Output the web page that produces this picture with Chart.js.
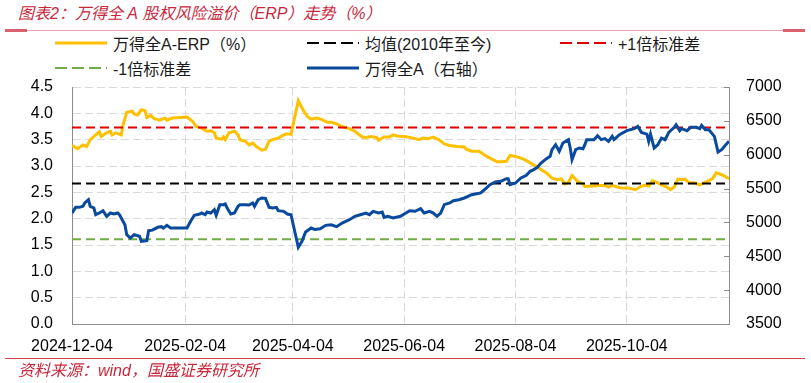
<!DOCTYPE html>
<html>
<head>
<meta charset="utf-8">
<script src="https://cdn.jsdelivr.net/npm/chart.js@4.4.1/dist/chart.umd.min.js"></script>
<style>
  body {
    margin: 0;
    width: 811px;
    height: 383px;
    position: relative;
    overflow: hidden;
    background: #fff;
    font-family: "Liberation Sans", "Noto Sans CJK SC", sans-serif;
    font-kerning: none;
    font-feature-settings: "kern" 0, "halt" 0, "palt" 0;
    text-spacing-trim: space-all;
  }
  #erpChart { position: absolute; left: 0; top: 0; }
  .title {
    position: absolute; left: 18px; top: 4px;
    font-size: 16px; line-height: 20px; font-style: italic;
    color: #c8283c; white-space: nowrap;
  }
  .rule { position: absolute; height: 1px; }
  .source {
    position: absolute; left: 18px; top: 361px;
    font-size: 16px; line-height: 20px; font-style: italic;
    color: #c8283c; white-space: nowrap;
  }
  .legend-item {
    position: absolute; height: 20px;
    display: flex; align-items: center;
    font-size: 16px; color: #1a1a1a; white-space: nowrap;
  }
  .legend-item svg { margin-right: 6px; }
</style>
</head>
<body>
<div class="title">图表2：万得全 A 股权风险溢价（ERP）走势（%）</div>
<div class="rule" style="left:5px;top:30px;width:800px;background:#e6a3aa;"></div>
<div class="rule" style="left:5px;top:29px;width:22px;height:3px;background:#d9606c;"></div>
<div class="rule" style="left:783px;top:29px;width:22px;height:3px;background:#d9606c;"></div>
<div id="legend"></div>
<canvas id="erpChart" width="811" height="383"></canvas>
<div class="rule" style="left:5px;top:358px;width:800px;background:#d2404e;"></div>
<div class="source">资料来源：wind，国盛证券研究所</div>

<script>
const START_DATE = "2024-12-04";
const LAST_DAY = 360;
const TICK_LABELS = ["2024-12-04", "2025-02-04", "2025-04-04", "2025-06-04", "2025-08-04", "2025-10-04"];

// ERP (%), day offsets from START_DATE
const ERP_DAYS = [
  0, 3, 6, 8, 10, 13, 15, 16, 19, 21, 22, 24, 27, 28, 30, 33, 34, 36, 38, 40,
  41, 43, 45, 48, 51, 52, 55, 63, 66, 68, 71, 74, 76, 78, 79, 82, 83, 84, 86, 89,
  91, 92, 95, 97, 99, 101, 104, 106, 108, 110, 113, 116, 118, 120, 124, 127, 129, 131, 134, 137,
  140, 142, 145, 148, 152, 155, 159, 161, 164, 167, 168, 171, 174, 176, 178, 182, 184, 187, 190, 192,
  195, 198, 201, 204, 207, 211, 215, 216, 219, 223, 226, 229, 233, 235, 238, 240, 243, 246, 248, 251,
  255, 258, 260, 263, 266, 268, 270, 272, 274, 277, 280, 281, 285, 289, 292, 294, 296, 298, 301, 305,
  309, 311, 314, 316, 318, 321, 323, 326, 328, 330, 332, 334, 336, 338, 341, 344, 347, 351, 353, 354,
  357, 360
];
const ERP_VALUES = [
  3.39, 3.33, 3.40, 3.37, 3.50, 3.59, 3.65, 3.56, 3.63, 3.66, 3.59, 3.63, 3.59, 3.78, 4.02, 4.04, 3.99, 3.97, 4.07, 4.05,
  3.92, 3.96, 3.90, 3.87, 3.91, 3.87, 3.91, 3.93, 3.85, 3.75, 3.72, 3.66, 3.67, 3.63, 3.53, 3.51, 3.55, 3.50, 3.63, 3.66,
  3.59, 3.50, 3.47, 3.40, 3.44, 3.37, 3.30, 3.32, 3.47, 3.50, 3.53, 3.59, 3.61, 3.60, 4.24, 4.04, 3.94, 3.89, 3.91, 3.88,
  3.83, 3.83, 3.80, 3.75, 3.71, 3.66, 3.55, 3.54, 3.56, 3.54, 3.49, 3.55, 3.55, 3.59, 3.57, 3.56, 3.55, 3.53, 3.50, 3.53,
  3.52, 3.55, 3.50, 3.42, 3.39, 3.37, 3.36, 3.32, 3.28, 3.28, 3.21, 3.15, 3.08, 3.08, 3.09, 3.20, 3.18, 3.15, 3.12, 3.06,
  2.98, 2.91, 2.87, 2.77, 2.74, 2.76, 2.66, 2.69, 2.82, 2.71, 2.66, 2.61, 2.62, 2.63, 2.63, 2.60, 2.63, 2.61, 2.58, 2.58,
  2.55, 2.60, 2.64, 2.62, 2.72, 2.68, 2.64, 2.60, 2.55, 2.60, 2.75, 2.74, 2.75, 2.68, 2.68, 2.64, 2.69, 2.76, 2.87, 2.86,
  2.82, 2.76
];

// Wind All A index (right axis)
const INDEX_DAYS = [
  0, 2, 4, 6, 7, 9, 10, 12, 13, 15, 17, 19, 21, 23, 25, 26, 29, 30, 32, 34,
  37, 38, 41, 42, 44, 47, 49, 50, 52, 54, 63, 65, 67, 70, 71, 73, 74, 76, 78, 79,
  81, 83, 84, 85, 87, 89, 91, 92, 95, 97, 99, 100, 102, 104, 106, 108, 110, 112, 113, 116,
  118, 120, 124, 126, 128, 131, 133, 136, 139, 142, 145, 148, 152, 155, 158, 161, 163, 165, 168, 170,
  171, 173, 176, 180, 183, 185, 188, 191, 193, 196, 198, 200, 202, 204, 207, 209, 212, 215, 217, 219,
  221, 224, 227, 229, 232, 235, 238, 239, 240, 243, 246, 249, 251, 253, 255, 257, 260, 262, 263, 265,
  267, 269, 272, 273, 274, 276, 278, 280, 281, 282, 286, 288, 290, 292, 294, 296, 297, 300, 304, 308,
  310, 312, 315, 316, 317, 319, 321, 323, 325, 327, 330, 331, 333, 334, 337, 339, 342, 344, 345, 347,
  349, 352, 354, 356, 358, 360
];
const INDEX_VALUES = [
  5139, 5223, 5223, 5238, 5287, 5336, 5238, 5213, 5114, 5139, 5173, 5090, 5139, 5124, 5139, 5114, 4966, 4819, 4770, 4819,
  4795, 4721, 4730, 4878, 4886, 4928, 4937, 4915, 4957, 4918, 4918, 5016, 5105, 5124, 5139, 5114, 5154, 5139, 5188, 5105,
  5262, 5262, 5272, 5213, 5124, 5139, 5238, 5262, 5262, 5257, 5287, 5238, 5336, 5361, 5356, 5223, 5213, 5223, 5173, 5164,
  5124, 5114, 4633, 4721, 4859, 4918, 4897, 4907, 4957, 4966, 4937, 4991, 5040, 5090, 5114, 5139, 5114, 5164, 5139, 5154,
  5075, 5090, 5065, 5090, 5139, 5173, 5164, 5203, 5139, 5164, 5139, 5090, 5139, 5262, 5287, 5321, 5336, 5361, 5385, 5410,
  5420, 5435, 5508, 5557, 5597, 5607, 5646, 5646, 5557, 5582, 5656, 5695, 5755, 5780, 5814, 5878, 5942, 5976, 6074, 6148,
  6050, 6173, 6222, 6099, 5927, 6074, 6099, 6088, 6148, 6222, 6222, 6281, 6222, 6237, 6197, 6271, 6222, 6296, 6355, 6384,
  6419, 6330, 6305, 6197, 6305, 6099, 6148, 6246, 6222, 6330, 6404, 6443, 6355, 6384, 6355, 6404, 6404, 6384, 6433, 6369,
  6369, 6271, 6040, 6074, 6139, 6197
];

// ERP reference levels since 2010
const ERP_MEAN = 2.67;
const ERP_PLUS_1SD = 3.73;
const ERP_MINUS_1SD = 1.61;

const TICK_FONT = { family: "'Liberation Sans', 'Noto Sans CJK SC', sans-serif", size: 16 };
const GRID_COLOR = "#d9d9d9";
const AXIS_COLOR = "#8c8c8c";

function dayOf(label) {
  return Math.round((Date.parse(label) - Date.parse(START_DATE)) / 86400000);
}

function toPoints(days, values) {
  return days.map((d, i) => ({ x: d, y: values[i] }));
}

function flatLine(level) {
  return [{ x: 0, y: level }, { x: LAST_DAY, y: level }];
}

const innerTicks = {
  id: "innerTicks",
  afterDatasetsDraw(chart) {
    const { ctx, chartArea, scales } = chart;
    ctx.save();
    ctx.strokeStyle = AXIS_COLOR;
    ctx.lineWidth = 1;
    scales.y1.ticks.forEach((t) => {
      const y = Math.round(scales.y1.getPixelForValue(t.value)) + 0.5;
      ctx.beginPath();
      ctx.moveTo(chartArea.right - 5, y);
      ctx.lineTo(chartArea.right, y);
      ctx.stroke();
    });
    ctx.restore();
  },
};

function renderLegend(chart) {
  const box = document.getElementById("legend");
  const slots = [[55, 33], [307, 33], [560, 33], [55, 58], [307, 58]];

  chart.data.datasets.forEach((ds, i) => {
    const item = document.createElement("div");
    item.className = "legend-item";
    item.style.left = slots[i][0] + "px";
    item.style.top = slots[i][1] + "px";
    const dash = ds.borderDash && ds.borderDash.length ? 'stroke-dasharray="12,5"' : "";
    item.innerHTML =
      '<svg width="52" height="8"><line x1="0" y1="4" x2="52" y2="4" stroke="' + ds.borderColor +
      '" stroke-width="' + ds.borderWidth + '" ' + dash + "/></svg><span>" + ds.label + "</span>";
    box.appendChild(item);
  });
}

function renderErpChart() {
  const ctx = document.getElementById("erpChart");
  if (!ctx) return;

  const chart = new Chart(ctx, {
    type: "line",
    data: {
      datasets: [
        {
          label: "万得全A-ERP（%）",
          data: toPoints(ERP_DAYS, ERP_VALUES),
          borderColor: "#ffc000",
          borderWidth: 3,
          yAxisID: "y",
          order: 4,
        },
        {
          label: "均值(2010年至今)",
          data: flatLine(ERP_MEAN),
          borderColor: "#000000",
          borderWidth: 2,
          borderDash: [9, 5],
          yAxisID: "y",
          order: 3,
        },
        {
          label: "+1倍标准差",
          data: flatLine(ERP_PLUS_1SD),
          borderColor: "#e00000",
          borderWidth: 2,
          borderDash: [9, 5],
          yAxisID: "y",
          order: 2,
        },
        {
          label: "-1倍标准差",
          data: flatLine(ERP_MINUS_1SD),
          borderColor: "#70ad47",
          borderWidth: 2,
          borderDash: [9, 5],
          yAxisID: "y",
          order: 1,
        },
        {
          label: "万得全A（右轴）",
          data: toPoints(INDEX_DAYS, INDEX_VALUES),
          borderColor: "#0a4a9e",
          borderWidth: 3,
          yAxisID: "y1",
          order: 0,
        },
      ],
    },
    options: {
      responsive: false,
      animation: false,
      devicePixelRatio: 1,
      layout: { padding: { top: 87, left: 0, right: 0, bottom: 0 } },
      elements: { point: { radius: 0 }, line: { tension: 0 } },
      plugins: { legend: { display: false }, tooltip: { enabled: false } },
      scales: {
        x: {
          type: "linear",
          min: 0,
          max: LAST_DAY,
          afterBuildTicks: (scale) => {
            scale.ticks = TICK_LABELS.map((l) => ({ value: dayOf(l) }));
          },
          afterFit: (scale) => { scale.height = 59; },
          ticks: {
            callback: (v, i) => TICK_LABELS[i],
            font: TICK_FONT,
            color: "#000",
            padding: 13,
            maxRotation: 0,
            autoSkip: false,
          },
          grid: { color: GRID_COLOR, drawTicks: false },
          border: { color: AXIS_COLOR, dash: [8, 4] },
        },
        y: {
          position: "left",
          min: 0,
          max: 4.5,
          afterFit: (scale) => { scale.width = 72; },
          ticks: {
            stepSize: 0.5,
            callback: (v) => v.toFixed(1),
            font: TICK_FONT,
            color: "#000",
            padding: 19,
          },
          grid: { color: GRID_COLOR, drawTicks: false },
          border: { color: AXIS_COLOR, dash: [8, 4] },
        },
        y1: {
          position: "right",
          min: 3500,
          max: 7000,
          afterFit: (scale) => { scale.width = 82; },
          ticks: {
            stepSize: 500,
            callback: (v) => String(v),
            font: TICK_FONT,
            color: "#000",
            padding: 17,
          },
          grid: { drawOnChartArea: false, drawTicks: false },
          border: { color: AXIS_COLOR },
        },
      },
    },
    plugins: [innerTicks],
  });

  renderLegend(chart);
}

document.addEventListener("DOMContentLoaded", renderErpChart);
</script>
</body>
</html>
